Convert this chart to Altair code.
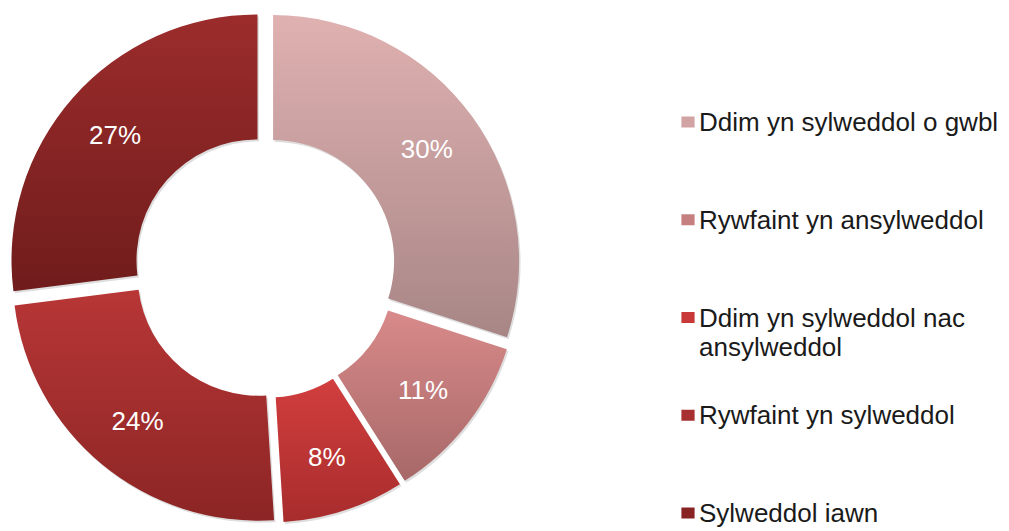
import math
import altair as alt
import pandas as pd

# ---- data ----
categories = [
    "Ddim yn sylweddol o gwbl",
    "Rywfaint yn ansylweddol",
    "Ddim yn sylweddol nac ansylweddol",
    "Rywfaint yn sylweddol",
    "Sylweddol iawn",
]
legend_labels = [
    "Ddim yn sylweddol o gwbl",
    "Rywfaint yn ansylweddol",
    "Ddim yn sylweddol nac|ansylweddol",
    "Rywfaint yn sylweddol",
    "Sylweddol iawn",
]
values = [30, 11, 8, 24, 27]

# ---- styles ----
top_colors = ["#e0b1b1", "#d98a8a", "#d23e3e", "#b83636", "#9c2c2c"]
bottom_colors = ["#a88686", "#a76868", "#a82c2c", "#8c2525", "#701c1c"]
legend_colors = ["#d2a3a3", "#c67f7f", "#c93838", "#a82f2f", "#872323"]

W1, H = 540, 515
CX, CY = 257, 259
D = 10          # explode distance
R_IN, R_OUT = 121, 246
LR = 190        # label radius from slice centre
TOTAL = sum(values)

df = pd.DataFrame({
    "cat": categories,
    "legend": legend_labels,
    "value": values,
    "order": list(range(len(categories))),
})

base = alt.Chart(df).transform_window(
    end="sum(value)", sort=[alt.SortField("order")], frame=[None, 0]
).transform_calculate(
    start="datum.end - datum.value",
    mid=f"(datum.end - datum.value / 2) / {TOTAL} * 2 * PI",
    cx=f"{CX} + {D} * sin(datum.mid)",
    cy=f"{CY} - {D} * cos(datum.mid)",
    sx="datum.cx + 1.5",
    sy="datum.cy + 2",
    lx=f"datum.cx + {LR} * sin(datum.mid)",
    ly=f"datum.cy - {LR} * cos(datum.mid)",
    label="datum.value + '%'",
)

xscale = alt.Scale(domain=[0, W1], range=[0, W1], nice=False, zero=False)
yscale = alt.Scale(domain=[0, H], range=[0, H], nice=False, zero=False)
tscale = alt.Scale(domain=[0, TOTAL], range=[0, 2 * math.pi])

theta_enc = dict(
    theta=alt.Theta("start:Q", scale=tscale, stack=False),
    theta2=alt.Theta2("end:Q"),
)

shadow = base.mark_arc(
    innerRadius=R_IN, outerRadius=R_OUT, fill="#000000", opacity=0.13
).encode(
    x=alt.X("sx:Q", scale=xscale, axis=None),
    y=alt.Y("sy:Q", scale=yscale, axis=None),
    **theta_enc,
)

layers = [shadow]
for i, c in enumerate(categories):
    grad = {
        "gradient": "linear",
        "x1": 0, "y1": 0, "x2": 0, "y2": 1,
        "stops": [
            {"offset": 0, "color": top_colors[i]},
            {"offset": 1, "color": bottom_colors[i]},
        ],
    }
    layers.append(
        base.transform_filter(alt.datum.order == i)
        .mark_arc(innerRadius=R_IN, outerRadius=R_OUT, fill=grad)
        .encode(
            x=alt.X("cx:Q", scale=xscale, axis=None),
            y=alt.Y("cy:Q", scale=yscale, axis=None),
            **theta_enc,
        )
    )

labels = base.mark_text(
    color="white", fontSize=26, font="Liberation Sans", align="center",
    baseline="middle", dy=1,
).encode(
    x=alt.X("lx:Q", scale=xscale, axis=None),
    y=alt.Y("ly:Q", scale=yscale, axis=None),
    text="label:N",
)

donut = alt.layer(*layers, labels).properties(width=W1, height=H)

leg_base = alt.Chart(df).encode(
    y=alt.Y(
        "cat:N", sort=categories, axis=None,
        scale=alt.Scale(type="point", domain=categories, range=[114, 505], padding=0),
    )
)
squares = leg_base.mark_point(
    shape="M-1.2,-1H1.2V1H-1.2Z", filled=True, size=121, opacity=1
).encode(
    x=alt.value(140),
    color=alt.Color("cat:N", scale=alt.Scale(domain=categories, range=legend_colors), legend=None),
)
texts = leg_base.mark_text(
    align="left", baseline="alphabetic", dy=9, fontSize=26, lineHeight=29,
    lineBreak="|", color="#1a1a1a", font="Liberation Sans",
).encode(
    x=alt.value(151),
    text="legend:N",
)
legend = alt.layer(squares, texts).properties(width=440, height=H)

chart = alt.hconcat(donut, legend, spacing=0).properties(padding=0).configure_view(stroke=None)

chart.save("out.html", embed_options={"renderer": "svg", "actions": False})
